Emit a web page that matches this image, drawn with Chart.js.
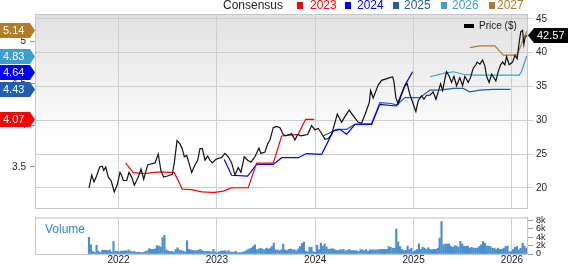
<!DOCTYPE html>
<html>
<head>
<meta charset="utf-8">
<script src="https://cdn.jsdelivr.net/npm/chart.js@4.4.1/dist/chart.umd.min.js"></script>
<style>
  body { margin: 0; background: #fff; }
  #wrap { position: relative; width: 568px; height: 264px; overflow: hidden; font-family: Arial, "Liberation Sans", sans-serif; color: #222; }
  #wrap canvas { position: absolute; left: 0; }
  .lg { position: absolute; top: -1px; font-size: 12px; line-height: 12px; white-space: nowrap; }
  .sq { position: absolute; top: 2px; width: 6px; height: 7px; }
</style>
</head>
<body>
<div id="wrap">
  <canvas id="priceChart" width="568" height="218" style="top:0"></canvas>
  <canvas id="volChart" width="568" height="57" style="top:207px"></canvas>
  <div id="legend"></div>
  <div style="position:absolute;left:464px;top:24px;width:10px;height:4px;background:#000"></div>
  <div style="position:absolute;left:479px;top:20px;font-size:10px;line-height:12px">Price ($)</div>
  <div style="position:absolute;left:45px;top:222px;font-size:12px;line-height:14px;color:#2f86cc">Volume</div>
</div>
<script>
// x values are decimal years
const priceDates = [2021.700,2021.728,2021.751,2021.778,2021.809,2021.835,2021.850,2021.870,2021.896,2021.924,2021.957,2021.988,
  2022.015,2022.033,2022.049,2022.083,2022.107,2022.134,2022.161,2022.201,2022.229,2022.256,2022.297,2022.320,2022.371,2022.404,
  2022.432,2022.459,2022.506,2022.547,2022.567,2022.595,2022.625,2022.648,2022.669,2022.693,2022.716,2022.744,2022.777,2022.805,
  2022.828,2022.852,2022.879,2022.906,2022.930,2022.953,2022.988,2023.024,2023.049,2023.082,2023.116,2023.150,2023.184,2023.217,
  2023.245,2023.278,2023.313,2023.347,2023.387,2023.428,2023.448,2023.489,2023.516,2023.540,2023.573,2023.608,2023.641,2023.675,
  2023.699,2023.733,2023.760,2023.794,2023.821,2023.855,2023.888,2023.923,2023.963,2023.997,2024.031,2024.058,2024.099,2024.132,
  2024.167,2024.224,2024.268,2024.300,2024.345,2024.400,2024.437,2024.472,2024.510,2024.549,2024.563,2024.589,2024.640,2024.675,
  2024.759,2024.787,2024.800,2024.820,2024.844,2024.878,2024.912,2024.935,2024.962,2024.996,2025.023,2025.047,2025.081,2025.105,
  2025.132,2025.166,2025.199,2025.227,2025.250,2025.274,2025.295,2025.318,2025.335,2025.362,2025.386,2025.410,2025.437,2025.470,
  2025.498,2025.521,2025.555,2025.579,2025.606,2025.633,2025.646,2025.674,2025.701,2025.725,2025.742,2025.768,2025.793,2025.816,
  2025.836,2025.860,2025.884,2025.905,2025.928,2025.945,2025.972,2026.006,2026.030,2026.053,2026.073,2026.090,2026.108,2026.121,
  2026.134,2026.148,2026.162];
const priceValues = [20.0,21.9,20.9,21.8,23.1,23.2,22.6,23.1,21.6,21.1,19.4,20.5,
  22.3,21.8,21.1,21.1,22.3,21.6,20.4,21.6,22.8,21.3,23.4,23.5,23.7,25.0,
  22.5,21.6,21.8,22.0,23.7,27.0,26.5,25.8,24.6,24.8,23.7,22.3,23.4,24.1,
  25.8,25.8,24.1,24.7,24.1,23.7,24.2,24.4,24.5,25.1,24.6,23.7,21.9,23.0,
  22.3,24.6,24.1,23.8,24.6,25.9,25.1,25.3,26.5,27.1,28.9,29.1,28.9,27.9,
  27.7,27.9,28.0,27.1,27.9,27.7,27.8,27.9,29.2,28.6,28.8,28.2,27.2,27.3,
  27.9,30.9,29.7,30.5,31.5,30.4,29.7,29.6,31.0,32.6,34.4,33.3,35.2,35.9,
  36.3,36.4,35.7,33.3,32.4,33.8,35.1,35.4,33.8,32.4,31.3,32.9,33.6,33.1,
  33.7,33.7,34.2,33.1,34.2,35.4,34.4,36.1,37.2,36.5,35.6,36.5,35.1,36.3,
  35.1,36.5,35.6,36.3,37.7,38.2,38.6,38.3,38.9,38.0,36.5,35.6,36.8,36.3,
  35.8,37.2,38.2,38.6,38.2,39.4,38.2,38.6,39.6,39.1,41.5,43.1,43.3,41.2,
  42.3,42.5,42.57];

// consensus EPS estimates by fiscal year
const consensusYears = ['2023', '2024', '2025', '2026', '2027'];
const eps2023Dates = [2022.073,2022.151,2022.271,2022.339,2022.390,2022.474,2022.567,2022.649,2022.744,2022.846,2022.947,2022.981,2023.065,2023.150,2023.319,2023.404,2023.573,2023.659,2023.827,2023.902,2023.990];
const eps2023Values = [3.545,3.431,3.419,3.431,3.438,3.438,3.431,3.233,3.228,3.20,3.194,3.194,3.21,3.25,3.25,3.545,3.545,3.87,3.89,4.07,4.07];
const eps2024Dates = [2023.075,2023.150,2023.313,2023.404,2023.573,2023.659,2023.827,2023.913,2024.065,2024.116,2024.183,2024.251,2024.319,2024.403,2024.573,2024.657,2024.827,2024.912,2024.990];
const eps2024Values = [3.59,3.40,3.39,3.53,3.53,3.61,3.61,3.66,3.65,3.77,3.93,3.95,3.89,4.01,4.01,4.25,4.23,4.48,4.64];
const eps2025Dates = [2024.081,2024.149,2024.217,2024.319,2024.403,2024.573,2024.657,2024.776,2024.827,2024.912,2025.064,2025.166,2025.267,2025.402,2025.504,2025.572,2025.674,2025.809,2025.986];
const eps2025Values = [3.87,3.91,3.95,3.95,4.01,4.02,4.27,4.26,4.24,4.33,4.33,4.42,4.42,4.44,4.44,4.40,4.42,4.43,4.43];
const eps2026Dates = [2025.166,2025.301,2025.402,2025.504,2025.606,2025.742,2025.911,2026.073,2026.096,2026.148,2026.162];
const eps2026Values = [4.58,4.62,4.64,4.61,4.60,4.60,4.60,4.60,4.64,4.82,4.83];
const eps2027Dates = [2025.572,2025.674,2025.826,2025.911,2025.961,2026.047,2026.080,2026.121,2026.155,2026.162];
const eps2027Values = [4.93,4.95,4.95,4.84,4.84,4.84,4.92,5.05,5.13,5.14];

// weekly volume (thousands), first bar week of 2021.70
const volStart = 2021.700;
const volValues = [4.0,2.2,0.6,0.4,2.1,0.7,0.4,0.9,0.9,0.9,0.8,1.0,0.5,3.0,0.6,0.6,0.5,
  0.7,0.7,0.8,0.7,1.0,0.7,0.5,0.6,0.4,0.4,0.4,0.3,0.4,0.6,0.8,1.3,1.1,1.1,1.2,2.0,1.9,1.7,3.9,4.5,
  1.0,0.7,0.6,0.6,0.5,1.1,1.5,1.0,0.8,0.7,0.5,3.2,1.1,1.0,0.9,0.8,0.8,0.9,1.1,0.8,
  0.6,0.6,0.7,0.6,0.5,1.1,0.5,0.3,0.5,0.7,0.7,0.8,0.6,0.8,0.5,0.4,0.5,0.6,0.3,0.3,
  0.4,0.5,0.7,1.0,1.2,1.4,1.8,2.2,1.0,1.2,1.4,1.2,1.0,1.4,1.2,1.3,1.8,2.6,1.0,1.0,
  0.8,1.0,2.4,1.0,0.8,1.1,1.2,1.0,1.0,0.8,1.2,1.8,2.5,2.9,0.7,0.5,1.6,1.6,0.6,0.4,
  2.1,1.0,2.6,1.9,2.4,1.7,1.1,1.2,1.3,1.1,0.9,0.8,1.0,1.0,1.1,0.8,0.8,1.1,0.8,0.8,
  0.8,0.8,0.6,1.0,1.0,0.8,1.1,0.6,1.0,1.0,1.0,1.0,1.0,1.1,1.1,1.1,1.1,1.1,1.8,1.6,
  1.4,1.4,6.0,2.9,1.8,1.1,0.8,0.9,1.9,1.1,1.4,0.5,0.8,1.1,2.4,1.1,1.6,1.4,1.1,1.5,
  1.1,1.0,1.1,1.1,1.4,3.8,7.8,2.2,2.4,2.4,2.4,1.8,1.6,2.0,1.9,1.6,3.0,2.4,1.9,1.8,
  1.9,1.4,1.6,1.4,1.4,1.4,1.8,2.2,3.0,2.6,1.9,1.9,1.8,1.4,1.4,1.1,1.4,1.1,1.1,1.4,
  1.8,1.9,0.5,0.6,1.1,1.6,1.8,1.0,1.4,2.6,1.9,1.4];

const yearTicks = [2022, 2023, 2024, 2025, 2026];
const priceTicks = [20, 25, 30, 35, 40, 45];
const epsTicks = [3.5, 4, 4.5, 5];
const volTicks = [0, 2, 4, 6, 8];

const xMin = 2021.151, xMax = 2026.163;
const seriesColors = ['#ff0000', '#0000ff', '#1f5fae', '#3d9fd0', '#b27b2c'];
const epsDates = [eps2023Dates, eps2024Dates, eps2025Dates, eps2026Dates, eps2027Dates];
const epsValues = [eps2023Values, eps2024Values, eps2025Values, eps2026Values, eps2027Values];

function zip(xs, ys) {
  return xs.map((x, i) => ({ x: x, y: ys[i] }));
}
function setTicks(list) {
  return s => { s.ticks = list.map(v => ({ value: v })); };
}

// legend on top
const legendX = [[297, 310], [345, 357], [393, 404], [441, 452], [489, 497]];
let html = '<div class="lg" style="left:223px">Consensus</div>';
consensusYears.forEach((y, i) => {
  html += '<div class="sq" style="left:' + legendX[i][0] + 'px;background:' + seriesColors[i] + '"></div>';
  html += '<div class="lg" style="left:' + legendX[i][1] + 'px;color:' + seriesColors[i] + '">' + y + '</div>';
});
document.getElementById('legend').innerHTML = html;

Chart.defaults.font.family = 'Arial, "Liberation Sans", sans-serif';
Chart.defaults.font.size = 10;
Chart.defaults.color = '#222';

const gridColor = '#cfcfcf';

const topPlugin = {
  id: 'topDeco',
  beforeDraw(chart) {
    const ctx = chart.ctx, a = chart.chartArea;
    const g = ctx.createLinearGradient(0, a.top, 0, a.bottom);
    g.addColorStop(0, '#e1e1e1');
    g.addColorStop(0.65, '#ffffff');
    ctx.save();
    ctx.fillStyle = g;
    ctx.fillRect(a.left, a.top, a.right - a.left, a.bottom - a.top);
    ctx.restore();
  },
  afterDraw(chart) {
    const ctx = chart.ctx, a = chart.chartArea;
    ctx.save();
    ctx.strokeStyle = '#c6c6c6';
    ctx.lineWidth = 1;
    ctx.strokeRect(a.left + 0.5, a.top + 0.5, a.right - a.left - 1, a.bottom - a.top);
    ctx.font = '11px Arial, "Liberation Sans", sans-serif';
    ctx.textBaseline = 'middle';
    // consensus badges on the left
    const yE = chart.scales.yE;
    epsValues.forEach((vals, i) => {
      const v = vals[vals.length - 1];
      const y = Math.round(yE.getPixelForValue(v)) + 0.5;
      ctx.fillStyle = seriesColors[i];
      ctx.beginPath();
      ctx.moveTo(0, y - 7.5);
      ctx.lineTo(30, y - 7.5);
      ctx.lineTo(35, y);
      ctx.lineTo(30, y + 7.5);
      ctx.lineTo(0, y + 7.5);
      ctx.closePath();
      ctx.fill();
      ctx.fillStyle = '#fff';
      ctx.textAlign = 'left';
      ctx.fillText(v.toFixed(2), 3, y + 0.5);
    });
    // last price badge
    const last = priceValues[priceValues.length - 1];
    const py = Math.round(chart.scales.yP.getPixelForValue(last)) + 0.5;
    ctx.fillStyle = '#000';
    ctx.beginPath();
    ctx.moveTo(528, py);
    ctx.lineTo(534, py - 7.5);
    ctx.lineTo(568, py - 7.5);
    ctx.lineTo(568, py + 7.5);
    ctx.lineTo(534, py + 7.5);
    ctx.closePath();
    ctx.fill();
    ctx.fillStyle = '#fff';
    ctx.fillText(last.toFixed(2), 537, py + 0.5);
    ctx.restore();
  }
};

const datasets = [{
  label: 'Price ($)',
  data: zip(priceDates, priceValues),
  yAxisID: 'yP',
  borderColor: '#111',
  borderWidth: 1.2,
  pointRadius: 0,
  tension: 0
}];
consensusYears.forEach((y, i) => {
  datasets.push({
    label: y,
    data: zip(epsDates[i], epsValues[i]),
    yAxisID: 'yE',
    borderColor: seriesColors[i],
    borderWidth: 1.2,
    pointRadius: 0,
    tension: 0
  });
});

new Chart(document.getElementById('priceChart'), {
  type: 'line',
  data: { datasets: datasets },
  plugins: [topPlugin],
  options: {
    responsive: false,
    animation: false,
    events: [],
    layout: { padding: { top: 14, bottom: 1, left: 0, right: 0 } },
    plugins: { legend: { display: false }, tooltip: { enabled: false } },
    scales: {
      x: {
        type: 'linear', min: xMin, max: xMax,
        afterBuildTicks: setTicks(yearTicks),
        afterFit: s => { s.height = 0; },
        ticks: { display: false },
        grid: { color: gridColor, drawTicks: false },
        border: { display: false }
      },
      yE: {
        type: 'linear', position: 'left', min: 3.0076, max: 5.332,
        afterBuildTicks: setTicks(epsTicks),
        afterFit: s => { s.width = 35; },
        ticks: { padding: 4, autoSkip: false, callback: v => String(v) },
        grid: { drawOnChartArea: false, tickLength: 5, color: '#999' },
        border: { display: false }
      },
      yP: {
        type: 'linear', position: 'right', min: 17.034, max: 45.706,
        afterBuildTicks: setTicks(priceTicks),
        afterFit: s => { s.width = 40; },
        ticks: { padding: 3, autoSkip: false, callback: v => String(v) },
        grid: { color: gridColor, tickLength: 5 },
        border: { display: false }
      }
    }
  }
});

const volPlugin = {
  id: 'volDeco',
  afterDraw(chart) {
    const ctx = chart.ctx, a = chart.chartArea;
    ctx.save();
    ctx.fillStyle = '#dedede';
    ctx.fillRect(a.left, a.top - 1, a.right - a.left, 2);
    ctx.strokeStyle = '#c6c6c6';
    ctx.lineWidth = 1;
    ctx.beginPath();
    ctx.moveTo(a.left + 0.5, a.top - 1);
    ctx.lineTo(a.left + 0.5, a.bottom + 0.5);
    ctx.lineTo(a.right - 0.5, a.bottom + 0.5);
    ctx.lineTo(a.right - 0.5, a.top - 1);
    ctx.stroke();
    ctx.restore();
  }
};

new Chart(document.getElementById('volChart'), {
  type: 'bar',
  data: {
    datasets: [{
      label: 'Volume',
      data: volValues.map((v, i) => ({ x: volStart + i * 7 / 365.25, y: v })),
      xAxisID: 'x',
      yAxisID: 'yV',
      backgroundColor: '#4a8fd0',
      barThickness: 1.5,
      grouped: false
    }]
  },
  plugins: [volPlugin],
  options: {
    responsive: false,
    animation: false,
    events: [],
    layout: { padding: { top: 11, left: 35, right: 0, bottom: 0 } },
    plugins: { legend: { display: false }, tooltip: { enabled: false } },
    scales: {
      x: {
        type: 'linear', min: xMin, max: xMax, offset: false,
        afterBuildTicks: setTicks(yearTicks),
        afterFit: s => { s.height = 10; },
        ticks: { padding: 0, autoSkip: false, font: { size: 10 }, callback: v => String(v) },
        grid: { color: gridColor, drawTicks: false, offset: false },
        border: { display: false }
      },
      yV: {
        type: 'linear', position: 'right', min: 0, max: 8.63,
        afterBuildTicks: setTicks(volTicks),
        afterFit: s => { s.width = 40; },
        ticks: { padding: 3, autoSkip: false, font: { size: 9, lineHeight: 1 }, callback: v => v === 0 ? '0' : v + 'k' },
        grid: { drawOnChartArea: false, tickLength: 5, color: '#999' },
        border: { display: false }
      }
    }
  }
});
</script>
</body>
</html>
